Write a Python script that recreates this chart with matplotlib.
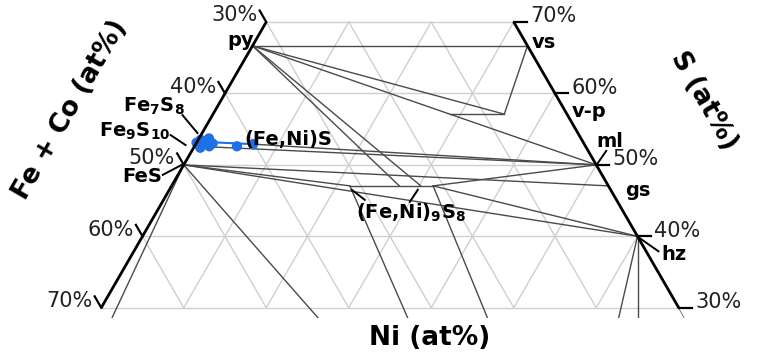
import numpy as np
import matplotlib
matplotlib.use("Agg")
import matplotlib.pyplot as plt
from matplotlib.patches import Polygon

plt.rcParams["mathtext.fontset"] = "dejavusans"

# ---------------- data (fractions: Ni, S ; Fe+Co = 1 - Ni - S) ----------------
S_MIN, S_MAX = 2 / 7, 0.70          # visible sulfur window
grid_levels = [0.1, 0.2, 0.3, 0.4, 0.5, 0.6, 0.7]
left_ticks = [0.3, 0.4, 0.5, 0.6, 0.7]      # Fe+Co on the Ni = 0 edge
right_ticks = [0.7, 0.6, 0.5, 0.4, 0.3]     # S on the Fe+Co = 0 edge

phases = {
    "py": (0.0, 2 / 3), "vs": (1 / 3, 2 / 3),
    "vp_fe": (0.287, 0.571), "vp_ni": (0.353, 0.571),
    "ml": (0.5, 0.5), "gs": (0.529, 0.4706), "hz": (0.6, 0.4),
    "FeS": (0.0, 0.5), "Fe7S8": (0.0, 0.5333), "Fe9S10": (0.0, 0.5263),
    "mss_fe": (0.004, 0.526), "mss_ni": (0.0695, 0.529),
    "pn_fe": (0.216, 0.4706), "pn_py1": (0.276, 0.4706),
    "pn_py2": (0.302, 0.4706), "pn_ni": (0.317, 0.4706),
    "kam": (0.047, 0.0), "tae": (0.63, 0.0), "awa": (0.72, 0.0),
    "ni80": (0.80, 0.0), "ni": (1.0, 0.0),
}
tie_lines = [
    ("py", "vs"), ("py", "vp_ni"), ("py", "ml"),
    ("vs", "vp_ni"), ("vp_fe", "vp_ni"),
    ("py", "pn_py1"), ("py", "pn_py2"),
    ("mss_ni", "ml"), ("mss_fe", "ml"),
    ("FeS", "pn_fe"), ("FeS", "gs"), ("FeS", "hz"),
    ("pn_fe", "pn_ni"), ("pn_ni", "ml"), ("pn_ni", "hz"),
    ("FeS", "kam"), ("FeS", "tae"), ("pn_fe", "tae"), ("pn_ni", "awa"),
    ("hz", "awa"), ("hz", "ni80"), ("hz", "ni"),
]
mss_ni = [0.000, 0.003, 0.006, 0.010, 0.013, 0.016, 0.020, 0.008, 0.012, 0.018, 0.0515, 0.0695]
mss_s = [0.531, 0.535, 0.527, 0.533, 0.529, 0.532, 0.530, 0.524, 0.537, 0.526, 0.526, 0.529]
mss_line_ni = [0.010, 0.0695]
mss_line_s = [0.532, 0.529]

BLUE = "#1f6fe5"
GREY = "#4a4a4a"


def xy(ni, s):
    ni = np.asarray(ni, float)
    s = np.asarray(s, float)
    return ni + s / 2.0, s * np.sqrt(3) / 2.0


fig = plt.figure(figsize=(7.67, 3.61), dpi=100)
ax = fig.add_axes([0, 0, 1, 1])
X0 = 0.5 - 390 / 825
Y1 = 522.1 / 825
ax.set_xlim(X0, X0 + 767 / 825)
ax.set_ylim(Y1 - 361 / 825, Y1)
ax.set_aspect("equal")
ax.axis("off")

# clip region: truncated triangle
cx, cy = xy([0, 1 - S_MIN, 1 - S_MAX, 0], [S_MIN, S_MIN, S_MAX, S_MAX])
clip = Polygon(np.column_stack([cx, cy]), closed=True, transform=ax.transData,
               fill=False, edgecolor="none")
ax.add_patch(clip)

# grid ------------------------------------------------------------
gkw = dict(color="#cfcfcf", lw=1.0, zorder=1)
for s in grid_levels:
    if 0.3 - 1e-9 <= s <= S_MAX + 1e-9:
        x, y = xy([0, 1 - s], [s, s])
        ax.plot(x, y, **gkw)
for n in grid_levels:       # constant Ni
    s_hi = min(S_MAX, 1 - n)
    if s_hi > 0.3:
        x, y = xy([n, n], [0.3, s_hi])
        ax.plot(x, y, **gkw)
for f in grid_levels:       # constant Fe
    s_hi = min(S_MAX, 1 - f)
    if s_hi > 0.3:
        x, y = xy([1 - f - 0.3, 1 - f - s_hi], [0.3, s_hi])
        ax.plot(x, y, **gkw)

# tie lines -------------------------------------------------------
for a, b in tie_lines:
    (n1, s1), (n2, s2) = phases[a], phases[b]
    x, y = xy([n1, n2], [s1, s2])
    ln, = ax.plot(x, y, color=GREY, lw=1.0, zorder=2)
    ln.set_clip_path(clip)

# mss data --------------------------------------------------------
x, y = xy(mss_line_ni, mss_line_s)
ax.plot(x, y, color=BLUE, lw=1.5, zorder=4)
x, y = xy(mss_ni, mss_s)
ax.scatter(x, y, s=55, color=BLUE, edgecolor="none", zorder=5)

# spines ----------------------------------------------------------
x, y = xy([0, 0], [S_MIN + 0.014, S_MAX])
ax.plot(x, y, color="black", lw=2.0, zorder=6, solid_capstyle="butt")
x, y = xy([1 - S_MAX, 1 - S_MIN - 0.014], [S_MAX, S_MIN + 0.014])
ax.plot(x, y, color="black", lw=2.0, zorder=6, solid_capstyle="butt")

TL = 0.016
tick_font = dict(fontsize=15, color="#222222", family="DejaVu Sans")
for f in left_ticks:
    x0, y0 = xy(0, 1 - f)
    x1, y1 = x0 - TL * 0.5, y0 + TL * np.sqrt(3) / 2
    ax.plot([x0, x1], [y0, y1], color="black", lw=1.6, zorder=6)
    ax.text(x1 - 0.003, y1 - 0.006, f"{round(f * 100)}%", ha="right", va="center", **tick_font)
for s in right_ticks:
    x0, y0 = xy(1 - s, s)
    x1 = x0 + TL
    ax.plot([x0, x1], [y0, y0], color="black", lw=1.6, zorder=6)
    ax.text(x1 + 0.004, y0 + 0.007, f"{round(s * 100)}%", ha="left", va="center", **tick_font)

# axis labels -----------------------------------------------------
lab = dict(fontsize=19, fontweight="bold", color="black")
ax.text(70 / 825 + X0, Y1 - 110 / 825, "Fe + Co (at%)", rotation=60, ha="center", va="center", **lab)
ax.text(704 / 825 + X0, Y1 - 101 / 825, "S (at%)", rotation=-60, ha="center", va="center", **lab)
ax.text(430 / 825 + X0, Y1 - 338 / 825, "Ni (at%)", ha="center", va="center", **lab)

# phase labels ----------------------------------------------------
pk = dict(fontsize=14, fontweight="bold", color="black", zorder=7)


def label(name, dx, dy, text, ha="center", lead=None):
    x0, y0 = xy(*phases[name])
    ax.text(x0 + dx / 825, y0 - dy / 825, text, ha=ha, va="center", **pk)
    if lead is not None:
        (a, b), (c, d) = lead
        ax.plot([x0 + a / 825, x0 + c / 825], [y0 - b / 825, y0 - d / 825],
                color="black", lw=1.4, zorder=7)


label("py", -12, -5, "py", ha="center")
label("vs", 16, -3, "vs", ha="center")
label("vp_ni", 85, -3, "v-p", ha="center")
label("ml", 14, -23, "ml", ha="center", lead=((10, -14), (1, -1)))
label("gs", 30, 5, "gs", ha="center")
label("hz", 36, 18, "hz", ha="center", lead=((21, 15), (1, 1)))
label("FeS", -42, 12, "FeS", ha="center", lead=((-21, 10), (-2, 0)))
label("Fe7S8", -44, -35, r"Fe$_\mathbf{7}$S$_\mathbf{8}$", ha="center",
      lead=((-15, -26), (0, -8)))
label("Fe9S10", -60, -15, r"Fe$_\mathbf{9}$S$_\mathbf{10}$", ha="center",
      lead=((-24, -11), (-9, -1)))
label("mss_ni", 35, -5, "(Fe,Ni)S", ha="center")
label("pn_fe", 61, 27, r"(Fe,Ni)$_\mathbf{9}$S$_\mathbf{8}$", ha="center",
      lead=((2, 4), (15, 14)))
x0, y0 = xy(*phases["pn_fe"])
ax.plot([x0 + 60 / 825, x0 + 68 / 825], [y0 - 16 / 825, y0 - 4 / 825], color="black", lw=1.4, zorder=7)

fig.savefig("out.png", dpi=100, facecolor="white")
